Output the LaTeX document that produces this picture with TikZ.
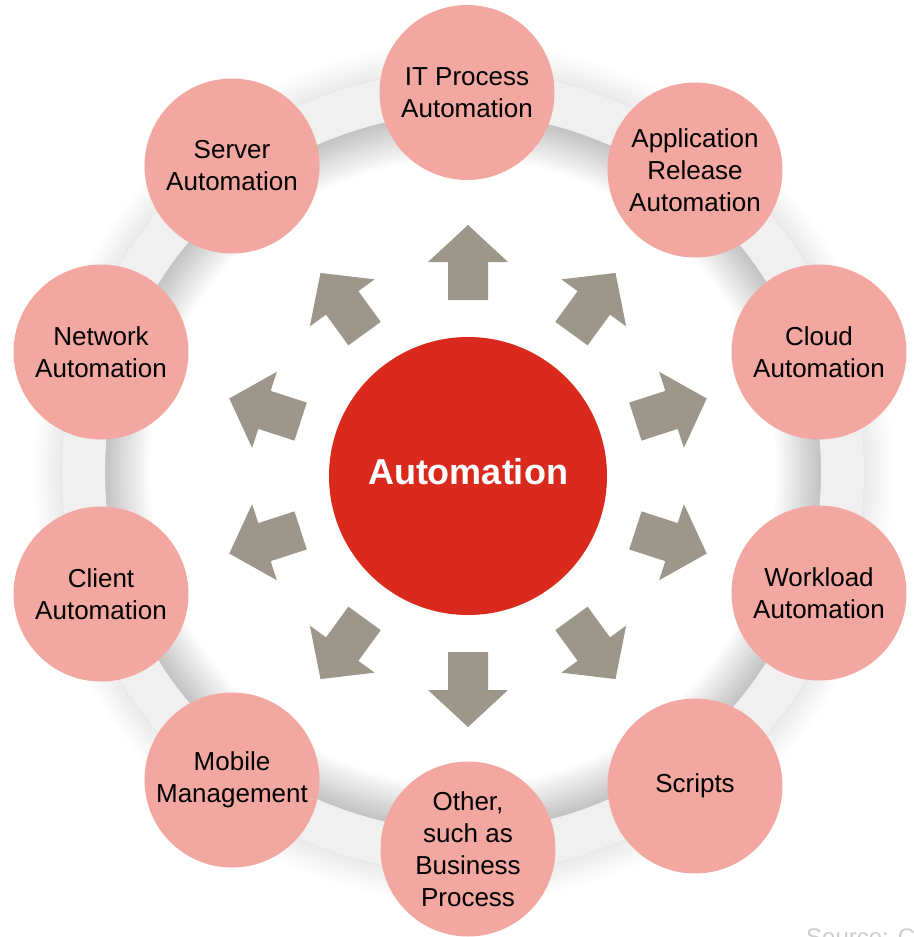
\documentclass[tikz,border=0pt]{standalone}
\usepackage{fontspec}
\setmainfont{Liberation Sans}
\definecolor{petal}{HTML}{F2A7A0}
\definecolor{core}{HTML}{D92A1D}
\definecolor{arrowgray}{HTML}{9C968B}
\definecolor{ringgray}{HTML}{F0F0F0}
\begin{document}
\begin{tikzpicture}[x=1pt,y=-1pt,
  petalnode/.style={circle, fill=petal, minimum size=175pt, inner sep=0pt, align=center,
    font=\fontsize{26}{32}\selectfont, text=black},
  corenode/.style={circle, fill=core, minimum size=278pt, inner sep=0pt,
    font=\fontsize{36}{40}\selectfont\bfseries, text=white},
  blockarrow/.style={fill=arrowgray}]
\useasboundingbox (0,0) rectangle (913,937);
\coordinate (rc) at (463,472);
% outer soft shadow of the ring
\foreach \w in {3,6,...,60} \draw[black, opacity=0.005, line width=\w pt] (rc) circle (401pt);
% inner shadow of the ring
\foreach \w in {3,6,...,90} \draw[black, opacity=0.007, line width=\w pt] (rc) circle (358pt);
% ring
\draw[ringgray, line width=43pt] (rc) circle (379.5pt);
% block arrows
\coordinate (ac) at (468,476);
\foreach \a in {90,54,18,-18,-54,-90,-126,-162,162,126}
  \fill[blockarrow, shift={(ac)}, rotate=\a]
    (176,-20) -- (214,-20) -- (214,-40) -- (251,0) -- (214,40) -- (214,20) -- (176,20) -- cycle;
% center
\node[corenode] (core) at (468,476) {};
\node[text=white, font=\fontsize{36}{40}\selectfont\bfseries] (coretext) at (468,472) {Automation};
% petals
\node[petalnode] (itp)  at (467,92.5) {IT Process\\Automation};
\node[petalnode] (app)  at (695,170)  {Application\\Release\\Automation};
\node[petalnode] (cld)  at (819,352)  {Cloud\\Automation};
\node[petalnode] (wkl)  at (819,593)  {Workload\\Automation};
\node[petalnode] (scr)  at (695,786)  {Scripts};
\node[petalnode] (oth)  at (468,849) {Other,\\such as\\Business\\Process};
\node[petalnode] (mob)  at (232,780)  {Mobile\\Management};
\node[petalnode] (cli)  at (101,594)  {Client\\Automation};
\node[petalnode] (net)  at (101,352)  {Network\\Automation};
\node[petalnode] (srv)  at (232,166)  {Server\\Automation};
% source note (cut off by the page edge, as in the reference)
\node[anchor=north west, inner sep=0pt, text=black!20, font=\fontsize{24}{28}\selectfont] (src) at (806,929) {Source: C};
\end{tikzpicture}
\end{document}
